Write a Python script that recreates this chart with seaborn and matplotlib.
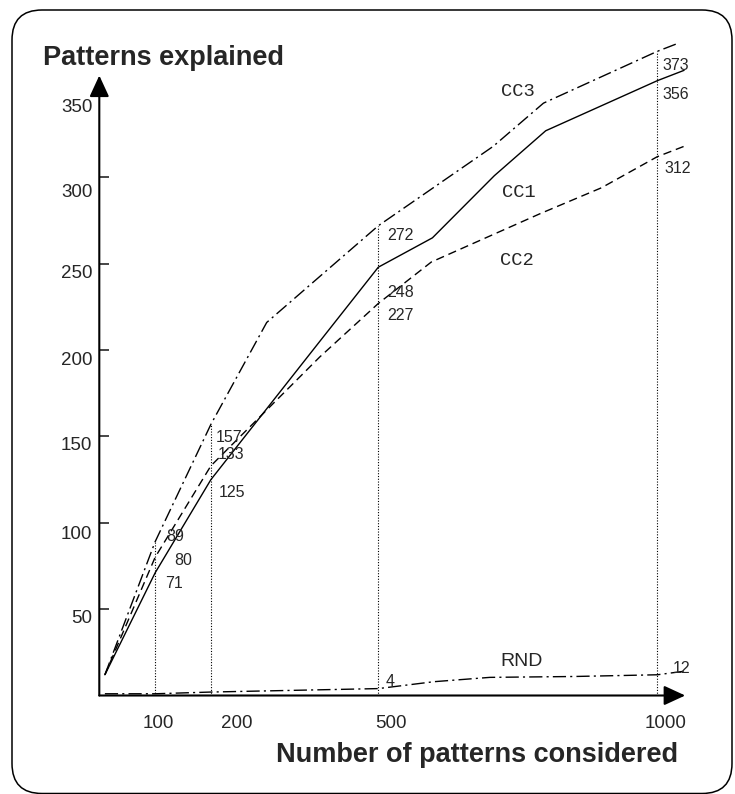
import numpy as np
import pandas as pd
import matplotlib
matplotlib.use("Agg")
import matplotlib.pyplot as plt
import matplotlib.patches as mpatches
import matplotlib.transforms as mtransforms
import seaborn as sns

# Patterns explained (y) against number of patterns considered (x)
n_cc1 = [10, 100, 200, 395, 500, 597, 708, 800, 1000, 1048]
cc1 = [12, 71, 125, 205, 248, 265, 301, 327, 356, 362]
n_cc2 = [10, 100, 200, 395, 500, 595, 790, 900, 1000, 1048]
cc2 = [12, 80, 133, 196, 227, 251, 279, 294, 312, 318]
n_cc3 = [10, 100, 200, 300, 500, 706, 796, 1000, 1040]
cc3 = [12, 89, 157, 216, 272, 318, 343, 373, 378]
n_rnd = [10, 100, 200, 500, 600, 700, 850, 1000, 1047]
rnd = [1, 1, 2, 4, 8, 10.5, 11, 12, 14]

x_ticks = [100, 200, 500, 1000]
y_ticks = [50, 100, 150, 200, 250, 300, 350]

series = {"CC1": (n_cc1, cc1), "CC2": (n_cc2, cc2),
          "CC3": (n_cc3, cc3), "RND": (n_rnd, rnd)}

df = pd.concat(
    [pd.DataFrame({"considered": xs, "explained": ys, "method": name})
     for name, (xs, ys) in series.items()],
    ignore_index=True)

sns.set_style("white")
plt.rcParams["font.family"] = ["Liberation Sans", "DejaVu Sans"]

W, H = 735, 794
X_END, Y_END = 1050, 359          # arrow tips, data units
XLIM, YLIM = 1100, 400
PX_X, PX_Y = 0.558, 1.727         # pixels per data unit
fig = plt.figure(figsize=(W / 100, H / 100), dpi=100)
ax = fig.add_axes([99.3 / W, (H - 695.5) / H, XLIM * PX_X / W, YLIM * PX_Y / H])
ax.set_xlim(0, XLIM)
ax.set_ylim(0, YLIM)
for s in ax.spines.values():
    s.set_visible(False)
ax.patch.set_alpha(0)

# curves
dash_cc = (9.5, 3, 1.5, 3)
sns.lineplot(data=df, x="considered", y="explained", style="method",
             dashes={"CC1": "", "CC2": (6, 3.5), "CC3": dash_cc, "RND": dash_cc},
             color="black", linewidth=1.0, estimator=None, sort=False,
             legend=False, ax=ax)

# dotted guides at the sampled sizes
def value_at(name, x):
    xs, ys = series[name]
    return ys[xs.index(x)]

tops = [max(value_at(k, x) for k in ("CC1", "CC2", "CC3")) for x in x_ticks]
ax.vlines(x_ticks, 0, tops, colors="black", linestyles=(0, (1, 1.5)), lw=0.8)

# axes with arrow heads
arrow = dict(arrowstyle="-|>,head_length=1.3,head_width=0.6", mutation_scale=10,
             lw=1.5, color="black", shrinkA=0, shrinkB=0)
ax.annotate("", xy=(X_END, 0), xytext=(0, 0), xycoords="data", arrowprops=arrow)
ax.annotate("", xy=(0, Y_END), xytext=(0, 0), xycoords="data", arrowprops=arrow)

# ticks
ax.set_yticks(y_ticks)
ax.set_yticklabels([str(v) for v in y_ticks])
ax.tick_params(axis="y", direction="in", length=7.2, width=1.2, pad=5,
               labelsize=13.5, left=True)
ax.yaxis.get_major_ticks()[-1].tick1line.set_visible(False)
y_shift = {50: -7, 100: -10, 150: -7, 200: -8, 250: -8, 300: -13, 350: -14}
for v, lab in zip(y_ticks, ax.get_yticklabels()):
    lab.set_transform(lab.get_transform() + mtransforms.ScaledTranslation(
        0, y_shift[v] / 100, fig.dpi_scale_trans))

ax.set_xticks(x_ticks)
ax.set_xticklabels([str(v) for v in x_ticks])
ax.tick_params(axis="x", length=0, pad=14, labelsize=13.5)
x_shift = {100: 3, 200: 26, 500: 13, 1000: 8}
for v, lab in zip(x_ticks, ax.get_xticklabels()):
    lab.set_transform(lab.get_transform() + mtransforms.ScaledTranslation(
        x_shift[v] / 100, 0, fig.dpi_scale_trans))
ax.set_xlabel("")
ax.set_ylabel("")

# value labels next to the guides (offsets in pixels)
value_offsets = {
    ("CC1", 100): (10, -11), ("CC2", 100): (19, -3), ("CC3", 100): (11, 5),
    ("CC3", 200): (5, -13), ("CC2", 200): (7, 11), ("CC1", 200): (8, -13),
    ("CC3", 500): (9, -10), ("CC1", 500): (9, -25), ("CC2", 500): (9, -12),
    ("CC3", 1000): (5, -14), ("CC1", 1000): (5, -14), ("CC2", 1000): (7, -12),
    ("RND", 500): (7, 7), ("RND", 1000): (15, 6),
}
for (name, x), (dx, dy) in value_offsets.items():
    v = value_at(name, x)
    ax.annotate(f"{v:g}", xy=(x, v), xytext=(dx, dy), textcoords="offset pixels",
                ha="left", va="center", fontsize=11.5)

# series names
mono = ["Liberation Mono", "DejaVu Sans Mono"]
ax.text(750, 349.5, "CC3", family=mono, fontsize=13.5, ha="center", va="center")
ax.text(752, 291.5, "CC1", family=mono, fontsize=13.5, ha="center", va="center")
ax.text(749, 252, "CC2", family=mono, fontsize=13.5, ha="center", va="center")
ax.text(757, 19.4, "RND", fontsize=14, ha="center", va="center")

# axis titles
fig.text(43 / W, 1 - 65 / H, "Patterns explained", fontsize=19.5,
         fontweight="bold", ha="left", va="baseline")
fig.text(678 / W, 1 - 762 / H, "Number of patterns considered", fontsize=19.5,
         fontweight="bold", ha="right", va="baseline")

# rounded frame
frame = mpatches.FancyBboxPatch((12, 0.5), 720, 783.5,
                                boxstyle="round,pad=0,rounding_size=30",
                                transform=mtransforms.IdentityTransform(),
                                fill=False, lw=1.1, ec="black")
fig.add_artist(frame)

fig.savefig("out.png", dpi=100)
